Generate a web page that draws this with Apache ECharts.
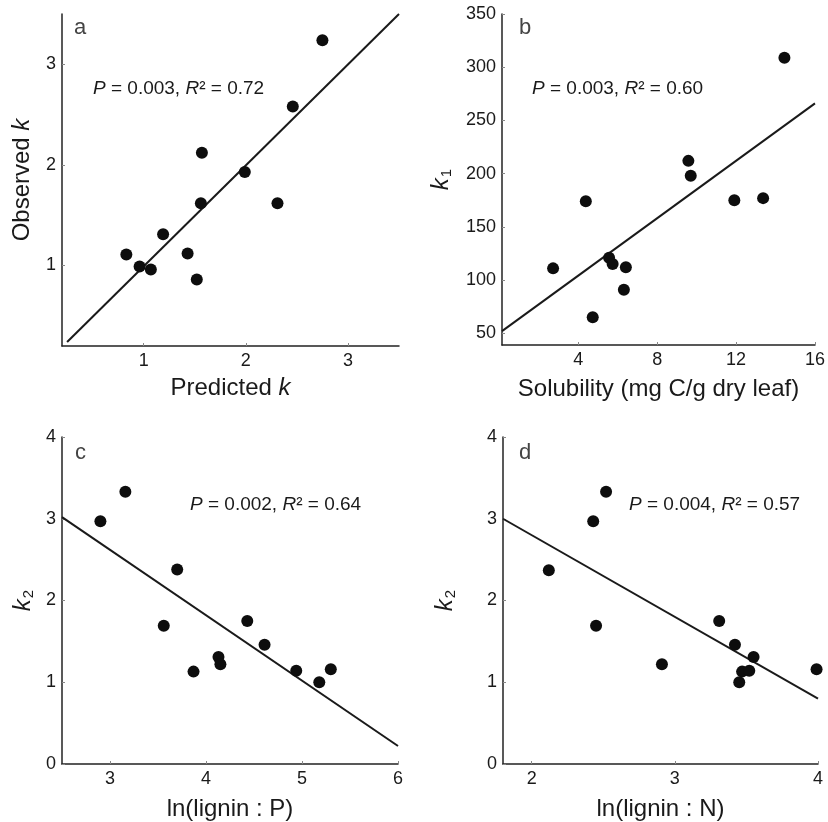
<!DOCTYPE html>
<html>
<head>
<meta charset="utf-8">
<script src="https://cdn.jsdelivr.net/npm/echarts@6/dist/echarts.min.js"></script>
<style>
html,body{margin:0;padding:0;background:#fff;}
#chart{width:828px;height:822px;}
</style>
</head>
<body>
<div id="chart"></div>
<script>
// Panel a
const aPredicted = [0.83, 0.96, 1.07, 1.19, 1.43, 1.52, 1.56, 1.57, 1.99, 2.31, 2.46, 2.75];
const aObserved  = [1.11, 0.99, 0.96, 1.31, 1.12, 0.86, 1.62, 2.12, 1.93, 1.62, 2.58, 3.24];
const aFit = [[0.25, 0.24], [3.5, 3.5]];
const aTicksX = [1, 2, 3];
const aTicksY = [1, 2, 3];
// Panel b
const bSolubility = [2.72, 4.38, 4.73, 5.56, 5.74, 6.41, 6.31, 9.58, 9.70, 11.91, 13.37, 14.45];
const bK1 = [111, 174, 65, 121, 115, 112, 91, 212, 198, 175, 177, 309];
const bFit = [[0.13, 52], [16, 266]];
const bTicksX = [4, 8, 12, 16];
const bTicksY = [50, 100, 150, 200, 250, 300, 350];
// Panel c
const cLigninP = [2.90, 3.16, 3.56, 3.70, 3.87, 4.13, 4.15, 4.43, 4.61, 4.94, 5.18, 5.30];
const cK2 = [2.97, 3.33, 1.69, 2.38, 1.13, 1.31, 1.22, 1.75, 1.46, 1.14, 1.00, 1.16];
const cFit = [[2.5, 3.02], [6, 0.22]];
const cTicksX = [3, 4, 5, 6];
// Panel d
const dLigninN = [2.12, 2.43, 2.52, 2.45, 2.91, 3.31, 3.42, 3.47, 3.52, 3.45, 3.55, 3.99];
const dK2 = [2.37, 2.97, 3.33, 1.69, 1.22, 1.75, 1.46, 1.13, 1.14, 1.00, 1.31, 1.16];
const dFit = [[1.8, 3.0], [4.0, 0.8]];
const dTicksX = [2, 3, 4];

const FONT = '"Liberation Sans", Arial, Helvetica, sans-serif';
const TXT = '#1a1a1a';

function zip(xs, ys) { return xs.map((x, i) => [x, ys[i]]); }

function xAxisCfg(idx, min, max, ticks, name, gap) {
  return {
    type: 'value', gridIndex: idx, min: min, max: max,
    name: name, nameLocation: 'middle', nameGap: gap,
    nameTextStyle: { fontFamily: FONT, fontSize: 24, color: TXT,
      rich: { i: { fontFamily: FONT, fontSize: 24, fontStyle: 'italic', color: TXT } } },
    axisLine: { lineStyle: { color: '#222', width: 1.5 } },
    axisTick: { inside: true, length: 3, lineStyle: { color: '#888' }, customValues: ticks },
    axisLabel: { fontFamily: FONT, fontSize: 18, color: TXT, margin: 6, customValues: ticks },
    splitLine: { show: false }
  };
}
function yAxisCfg(idx, min, max, ticks, name, gap) {
  return {
    type: 'value', gridIndex: idx, min: min, max: max,
    name: name, nameLocation: 'middle', nameGap: gap, nameRotate: 90,
    nameTextStyle: { fontFamily: FONT, fontSize: 24, color: TXT,
      rich: {
        i: { fontFamily: FONT, fontSize: 24, fontStyle: 'italic', color: TXT, lineHeight: 26 },
        sub: { fontFamily: FONT, fontSize: 15, color: TXT, verticalAlign: 'bottom', lineHeight: 15, padding: [12, 0, 0, 1] }
      } },
    axisLine: { lineStyle: { color: '#222', width: 1.5 } },
    axisTick: { inside: true, length: 3, lineStyle: { color: '#888' }, customValues: ticks },
    axisLabel: { fontFamily: FONT, fontSize: 18, color: TXT, margin: 6, customValues: ticks },
    splitLine: { show: false }
  };
}

function scatter(idx, data) {
  return { type: 'scatter', xAxisIndex: idx, yAxisIndex: idx, data: data,
    symbolSize: 12, itemStyle: { color: '#0d0d0d', opacity: 1 }, z: 3 };
}
function fit(idx, data) {
  return { type: 'line', xAxisIndex: idx, yAxisIndex: idx, data: data,
    showSymbol: false, lineStyle: { color: '#1a1a1a', width: 2 }, z: 2, clip: true };
}

const annRich = { i: { fontFamily: FONT, fontSize: 19, fontStyle: 'italic', color: TXT } };
function ann(text, left, top) {
  return { text: text, left: left, top: top, padding: 0,
    textStyle: { fontFamily: FONT, fontSize: 19, fontWeight: 'normal', color: TXT, rich: annRich } };
}
function letter(text, left, top) {
  return { text: text, left: left, top: top, padding: 0,
    textStyle: { fontFamily: FONT, fontSize: 22, fontWeight: 'normal', color: '#444' } };
}

const option = {
  backgroundColor: '#fff',
  animation: false,
  title: [
    letter('a', 74, 17), letter('b', 519, 17), letter('c', 75, 442), letter('d', 519, 442),
    ann('{i|P} = 0.003, {i|R}² = 0.72', 93, 79),
    ann('{i|P} = 0.003, {i|R}² = 0.60', 532, 79),
    ann('{i|P} = 0.002, {i|R}² = 0.64', 190, 495),
    ann('{i|P} = 0.004, {i|R}² = 0.57', 629, 495)
  ],
  grid: [
    { left: 62, top: 14, width: 337, height: 332 },
    { left: 502, top: 14, width: 316, height: 331 },
    { left: 62, top: 437, width: 336, height: 328 },
    { left: 503, top: 437, width: 315, height: 328 }
  ],
  xAxis: [
    xAxisCfg(0, 0.2, 3.5, aTicksX, 'Predicted {i|k}', 30),
    xAxisCfg(1, 0.13, 16, bTicksX, 'Solubility (mg C/g dry leaf)', 32),
    xAxisCfg(2, 2.5, 6, cTicksX, 'ln(lignin : P)', 33),
    xAxisCfg(3, 1.8, 4, dTicksX, 'ln(lignin : N)', 33)
  ],
  yAxis: [
    yAxisCfg(0, 0.2, 3.5, aTicksY, 'Observed {i|k}', 27),
    yAxisCfg(1, 39, 350, bTicksY, '{i|k}{sub|1}', 48),
    Object.assign(yAxisCfg(2, 0, 4, null, '{i|k}{sub|2}', 26), { interval: 1 }),
    Object.assign(yAxisCfg(3, 0, 4, null, '{i|k}{sub|2}', 45), { interval: 1 })
  ],
  series: [
    fit(0, aFit), scatter(0, zip(aPredicted, aObserved)),
    fit(1, bFit), scatter(1, zip(bSolubility, bK1)),
    fit(2, cFit), scatter(2, zip(cLigninP, cK2)),
    fit(3, dFit), scatter(3, zip(dLigninN, dK2))
  ]
};
option.yAxis.forEach(a => {
  if (!a.axisTick.customValues) { delete a.axisTick.customValues; delete a.axisLabel.customValues; }
});
const chart = echarts.init(document.getElementById('chart'), null, { renderer: 'canvas' });
chart.setOption(option);
</script>
</body>
</html>
